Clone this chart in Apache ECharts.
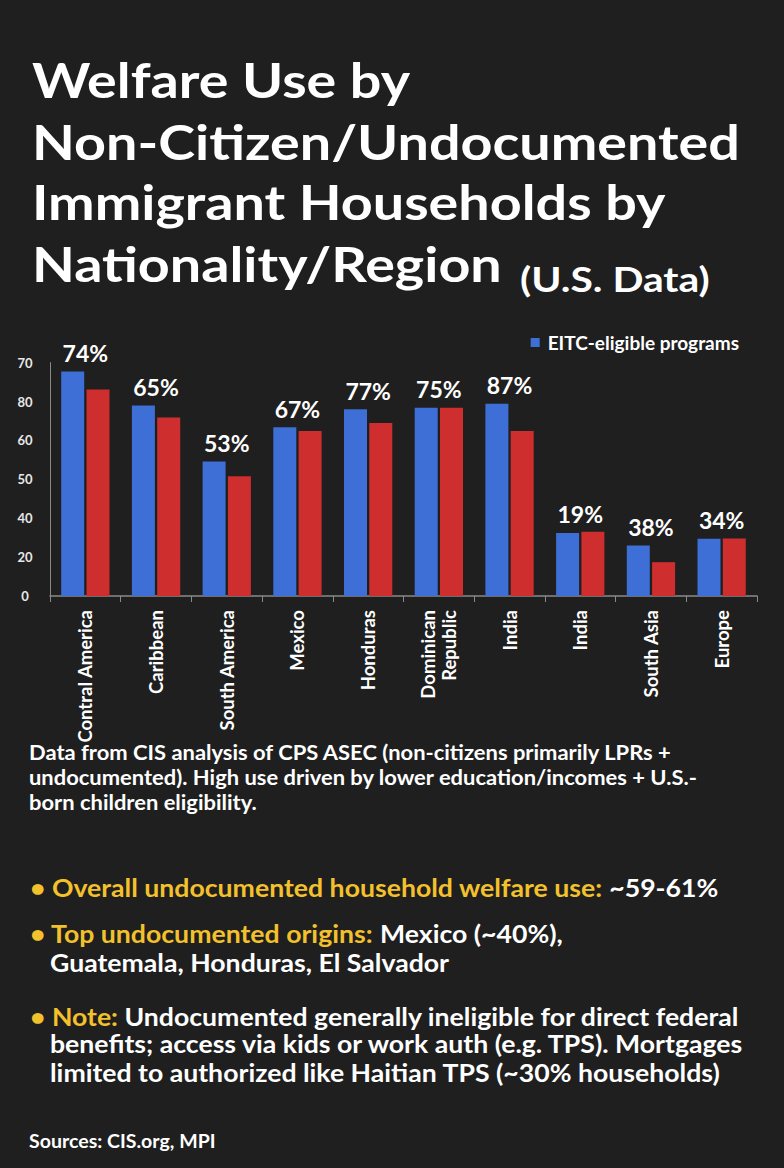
<!DOCTYPE html>
<html>
<head>
<meta charset="utf-8">
<script src="https://cdn.jsdelivr.net/npm/echarts@6/dist/echarts.min.js"></script>
<style>
html,body{margin:0;padding:0;background:#1f1f1f;}
#c{width:784px;height:1168px;}
</style>
</head>
<body>
<div id="c"></div>
<script>
// ---- data ----
const categories = ['Contral America', 'Caribbean', 'South America', 'Mexico', 'Honduras',
  'Dominican\nRepublic', 'India', 'India', 'South Asia', 'Europe'];
const blueValues = [57.7, 49.0, 34.6, 43.4, 48.0, 48.4, 49.4, 16.2, 13.0, 14.7];
const redValues  = [53.1, 45.9, 30.8, 42.4, 44.5, 48.4, 42.4, 16.5, 8.7, 14.8];
const pctLabels  = ['74%', '65%', '53%', '67%', '77%', '75%', '87%', '19%', '38%', '34%'];
const yTickLabels = ['0', '20', '40', '50', '60', '80', '70'];
const legendName = 'EITC-eligible programs';
const otherName = 'Other programs';

const titleLines = ['Welfare Use by', 'Non-Citizen/Undocumented', 'Immigrant Households by', 'Nationality/Region'];
const titleSuffix = '(U.S. Data)';
const dataNote = ['Data from CIS analysis of CPS ASEC (non-citizens primarily LPRs +',
  'undocumented). High use driven by lower education/incomes + U.S.-',
  'born children eligibility.'];
const bullets = [
  { key: 'Overall undocumented household welfare use:', rest: [' ~59-61%'] },
  { key: 'Top undocumented origins:', rest: [' Mexico (~40%),', 'Guatemala, Honduras, El Salvador'] },
  { key: 'Note:', rest: [' Undocumented generally ineligible for direct federal',
    'benefits; access via kids or work auth (e.g. TPS). Mortgages',
    'limited to authorized like Haitian TPS (~30% households)'] }
];
const sourcesText = 'Sources: CIS.org, MPI';

// ---- styling ----
const FONT = 'Lato, "Open Sans", sans-serif';
const BLUE = '#3d6fd6';
const RED = '#cf2e2e';
const GOLD = '#f3c12c';
const WHITE = '#ffffff';
const AXIS = '#8a8a8a';

const chart = echarts.init(document.getElementById('c'), null, { renderer: 'svg' });

const graphics = [];
function addText(x, y, text, font, fill, sx, rich, lineHeight) {
  const style = { text: text, font: font, fill: fill, verticalAlign: 'top', align: 'left' };
  if (rich) style.rich = rich;
  if (lineHeight) style.lineHeight = lineHeight;
  graphics.push({ type: 'text', x: x, y: y, scaleX: sx, silent: true, style: style });
}

const titleTops = [56, 117.5, 178, 239.5];
titleLines.forEach((t, i) => addText(32, titleTops[i], t, 'bold 48px ' + FONT, WHITE, 1.16));
addText(520, 262, titleSuffix, 'bold 34px ' + FONT, WHITE, 1.2);

addText(29, 740, dataNote.join('\n'), 'bold 21px ' + FONT, WHITE, 1.045, null, 25);

const B = 'bold 25px ' + FONT;
const rich = { g: { fill: GOLD, font: B }, w: { fill: WHITE, font: B } };
const SX = 1.066;
addText(30, 875, '{g|• ' + bullets[0].key + '}{w|' + bullets[0].rest[0] + '}', B, WHITE, SX, rich);
addText(30, 921, '{g|• ' + bullets[1].key + '}{w|' + bullets[1].rest[0] + '}', B, WHITE, SX, rich);
addText(50, 950, bullets[1].rest[1], B, WHITE, SX);
addText(30, 1004, '{g|• ' + bullets[2].key + '}{w|' + bullets[2].rest[0] + '}', B, WHITE, SX, rich);
addText(50, 1031, bullets[2].rest[1], B, WHITE, SX);
addText(50, 1060, bullets[2].rest[2], B, WHITE, SX);

addText(29, 1131, sourcesText, 'bold 19px ' + FONT, WHITE, 1.03);

chart.setOption({
  backgroundColor: '#1f1f1f',
  animation: false,
  legend: {
    data: [legendName], right: 40, top: 328, icon: 'rect', itemWidth: 9, itemHeight: 9, itemGap: 5,
    textStyle: { color: WHITE, fontSize: 19, fontWeight: 'bold', fontFamily: FONT, padding: [0, 0, 0, 3] }
  },
  grid: { left: 50, right: 27, top: 362.6, bottom: 572 },
  xAxis: {
    type: 'category', data: categories,
    axisLine: { lineStyle: { color: AXIS, width: 1.5 } },
    axisTick: { show: true, length: 6, lineStyle: { color: AXIS } },
    axisLabel: { interval: 0, rotate: 90, margin: 14, color: WHITE, fontSize: 18.5, fontWeight: 'bold',
      fontFamily: FONT, lineHeight: 21 }
  },
  yAxis: {
    type: 'value', min: 0, max: 60, interval: 10,
    axisLine: { show: true, lineStyle: { color: AXIS, width: 1 } },
    axisTick: { show: false },
    splitLine: { show: false },
    axisLabel: { formatter: v => yTickLabels[Math.round(v / 10)], align: 'center', margin: 25,
      color: '#e8e8e8', fontSize: 13, fontWeight: 'bold', fontFamily: FONT, padding: [2, 0, 0, 0] }
  },
  series: [
    { name: legendName, type: 'bar', data: blueValues, barWidth: 23, barGap: '10%',
      itemStyle: { color: BLUE },
      label: { show: true, position: 'top', distance: 7, offset: [12.65, 0],
        formatter: p => pctLabels[p.dataIndex], color: WHITE, fontSize: 23, fontWeight: 'bold', fontFamily: FONT } },
    { name: otherName, type: 'bar', data: redValues, barWidth: 23,
      itemStyle: { color: RED } }
  ],
  graphic: graphics
});
</script>
</body>
</html>
